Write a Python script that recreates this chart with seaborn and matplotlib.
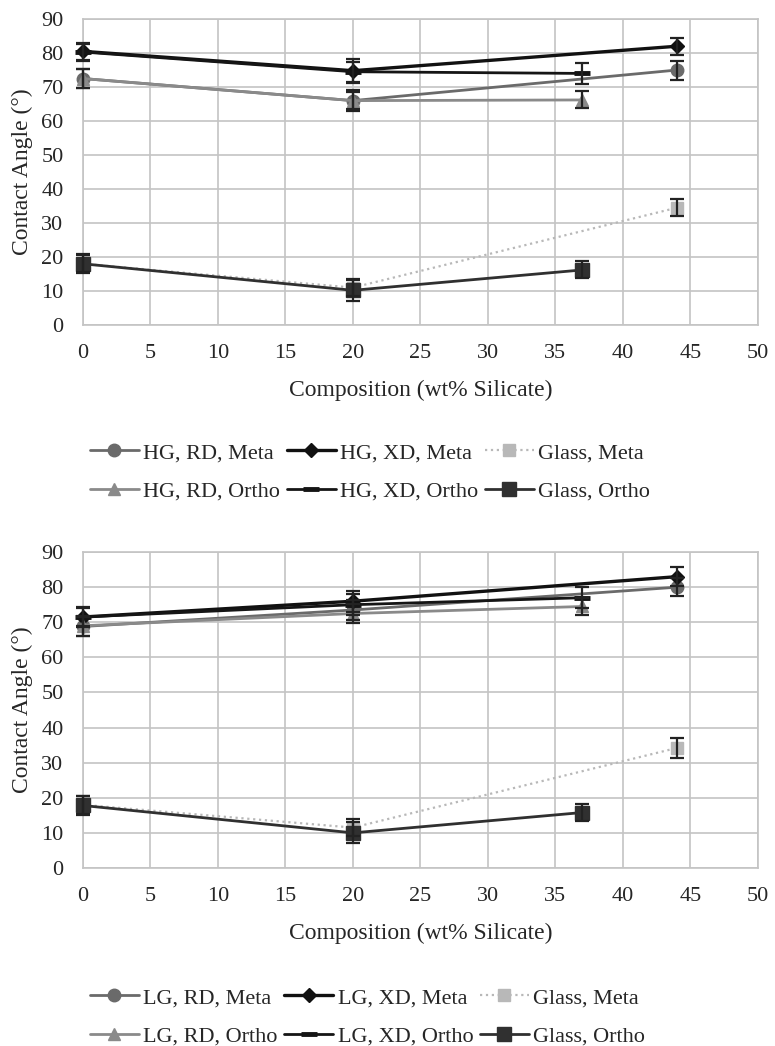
import numpy as np
import matplotlib
matplotlib.use("Agg")
import matplotlib.pyplot as plt
import seaborn as sns

# Composition (wt% silicate) for each series
x_meta = [0, 20, 44]
x_ortho = [0, 20, 37]

# Top panel (HG)
hg_rd_meta = [72.5, 66.0, 75.0]
hg_xd_meta = [80.5, 74.8, 82.0]
hg_glass_meta = [18.0, 11.0, 34.5]
hg_rd_ortho = [72.5, 66.0, 66.2]
hg_xd_ortho = [80.3, 74.5, 74.0]
hg_glass_ortho = [18.0, 10.2, 16.2]

hg_rd_meta_err = [2.8, 2.5, 2.8]
hg_xd_meta_err = [2.5, 3.5, 2.5]
hg_glass_meta_err = [2.5, 2.5, 2.5]
hg_rd_ortho_err = [2.8, 3.0, 2.5]
hg_xd_ortho_err = [2.5, 3.0, 3.0]
hg_glass_ortho_err = [2.8, 3.0, 2.5]

# Bottom panel (LG)
lg_rd_meta = [68.8, 73.5, 80.0]
lg_xd_meta = [71.5, 76.0, 83.0]
lg_glass_meta = [18.0, 11.5, 34.2]
lg_rd_ortho = [69.0, 72.5, 74.5]
lg_xd_ortho = [71.5, 75.0, 77.0]
lg_glass_ortho = [17.8, 10.0, 15.8]

lg_rd_meta_err = [2.8, 2.8, 2.5]
lg_xd_meta_err = [2.8, 3.0, 2.8]
lg_glass_meta_err = [2.5, 2.5, 2.8]
lg_rd_ortho_err = [2.8, 2.8, 2.5]
lg_xd_ortho_err = [2.5, 3.0, 3.0]
lg_glass_ortho_err = [2.8, 3.0, 2.5]

sns.set_style("white")
plt.rcParams["font.family"] = ["Liberation Serif", "DejaVu Serif"]
FS = 16

styles = {
    "rd_meta": dict(color="#6a6a6a", marker="o", ls="-", ms=9, lw=2.0),
    "xd_meta": dict(color="#111111", marker="D", ls="-", ms=7.5, lw=2.4),
    "glass_meta": dict(color="#b8b8b8", marker="s", ls=":", ms=9, lw=1.6),
    "rd_ortho": dict(color="#8a8a8a", marker="^", ls="-", ms=9, lw=2.0),
    "xd_ortho": dict(color="#151515", marker="_", ls="-", ms=12, lw=2.0),
    "glass_ortho": dict(color="#303030", marker="s", ls="-", ms=10, lw=2.0),
}


def draw_panel(ax, prefix, series, legend_y):
    handles = {}
    for key, x, y, err in series:
        st = styles[key]
        mew = 3.5 if key == "xd_ortho" else 1
        sns.lineplot(x=x, y=y, ax=ax, color=st["color"], marker=st["marker"],
                     linestyle=st["ls"], markersize=st["ms"], linewidth=st["lw"],
                     markeredgecolor=st["color"], markeredgewidth=mew,
                     errorbar=None, zorder=3, clip_on=False)
        ax.errorbar(x, y, yerr=err, fmt="none", ecolor="#222222",
                    elinewidth=1.6, capsize=5, capthick=1.6, zorder=4,
                    clip_on=False)
        handles[key] = plt.Line2D([], [], color=st["color"], marker=st["marker"],
                                  linestyle=st["ls"], markersize=st["ms"],
                                  linewidth=st["lw"], markeredgecolor=st["color"],
                                  markeredgewidth=mew)
    ax.set_xlim(0, 50)
    ax.set_ylim(0, 90)
    ax.set_xticks(range(0, 51, 5))
    ax.set_yticks(range(0, 91, 10))
    ax.grid(True, color="#c4c4c4", linewidth=1.2, linestyle="-")
    for s in ax.spines.values():
        s.set_color("#c4c4c4")
        s.set_linewidth(1.2)
    ax.tick_params(axis="x", length=0, labelsize=FS, pad=14)
    ax.tick_params(axis="y", length=0, labelsize=FS, pad=14)
    ax.set_xlabel("Composition (wt% Silicate)", fontsize=FS + 1, labelpad=12)
    ax.set_ylabel("Contact Angle (°)", fontsize=FS + 1, labelpad=6)
    order = ["rd_meta", "rd_ortho", "xd_meta", "xd_ortho", "glass_meta", "glass_ortho"]
    labels = {
        "rd_meta": f"{prefix}, RD, Meta", "xd_meta": f"{prefix}, XD, Meta",
        "glass_meta": "Glass, Meta", "rd_ortho": f"{prefix}, RD, Ortho",
        "xd_ortho": f"{prefix}, XD, Ortho", "glass_ortho": "Glass, Ortho",
    }
    ax.legend([handles[k] for k in order], [labels[k] for k in order],
              ncol=3, frameon=False, fontsize=FS, loc="center left",
              bbox_to_anchor=(0.116, legend_y), bbox_transform=fig.transFigure,
              borderaxespad=0, borderpad=0, handlelength=2.2,
              handletextpad=0.2, columnspacing=0.3, labelspacing=0.8)


fig = plt.figure(figsize=(7.75, 10.46), dpi=100)
ax1 = fig.add_axes([0.107, 0.6893, 0.871, 0.2925])
ax2 = fig.add_axes([0.107, 0.1702, 0.871, 0.302])

draw_panel(ax1, "HG", [
    ("rd_meta", x_meta, hg_rd_meta, hg_rd_meta_err),
    ("xd_meta", x_meta, hg_xd_meta, hg_xd_meta_err),
    ("glass_meta", x_meta, hg_glass_meta, hg_glass_meta_err),
    ("rd_ortho", x_ortho, hg_rd_ortho, hg_rd_ortho_err),
    ("xd_ortho", x_ortho, hg_xd_ortho, hg_xd_ortho_err),
    ("glass_ortho", x_ortho, hg_glass_ortho, hg_glass_ortho_err),
], 1 - 472 / 1046)
draw_panel(ax2, "LG", [
    ("rd_meta", x_meta, lg_rd_meta, lg_rd_meta_err),
    ("xd_meta", x_meta, lg_xd_meta, lg_xd_meta_err),
    ("glass_meta", x_meta, lg_glass_meta, lg_glass_meta_err),
    ("rd_ortho", x_ortho, lg_rd_ortho, lg_rd_ortho_err),
    ("xd_ortho", x_ortho, lg_xd_ortho, lg_xd_ortho_err),
    ("glass_ortho", x_ortho, lg_glass_ortho, lg_glass_ortho_err),
], 1 - 1017 / 1046)

fig.savefig("out.png", dpi=100)
